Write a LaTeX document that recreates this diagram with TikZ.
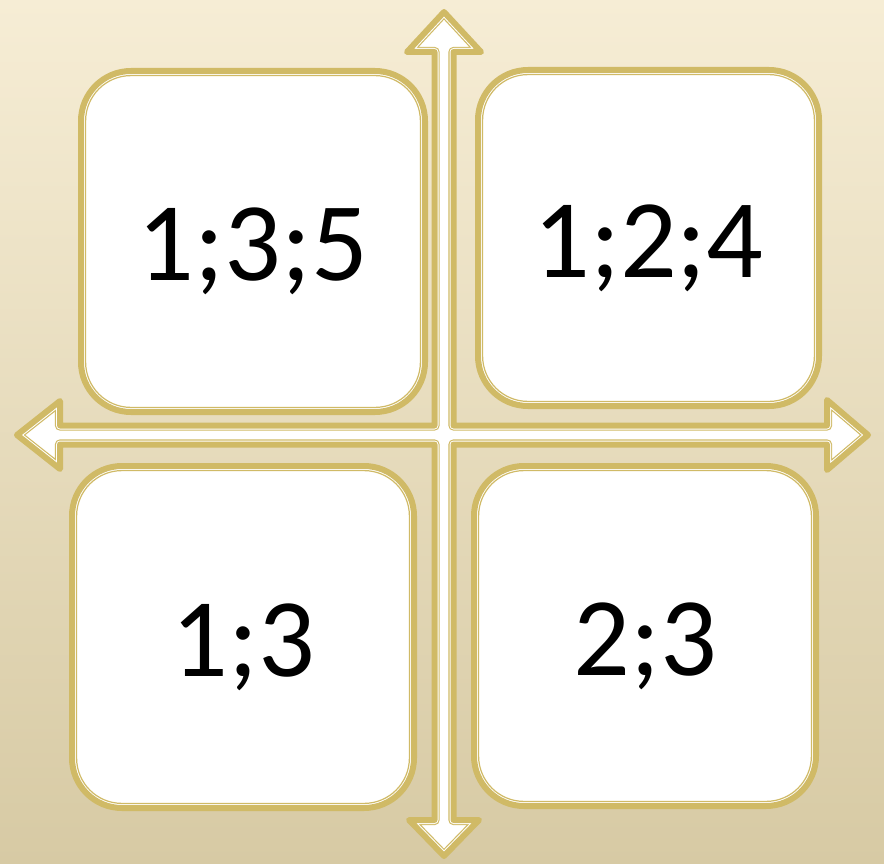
\documentclass[tikz,border=0pt]{standalone}
\usepackage{fontspec}
\setmainfont{Carlito}
\usetikzlibrary{calc, positioning}
\definecolor{gold}{RGB}{208,186,102}
\definecolor{bgtop}{RGB}{246,237,213}
\definecolor{bgbot}{RGB}{215,202,164}
\tikzset{
  card/.style={draw=gold, line width=6pt, fill=white, rounded corners=50pt,
    inner sep=0pt, outer sep=0pt, text height=80pt, text depth=2pt,
    font=\fontsize{112}{120}\selectfont},
  inset/.style={draw=gold, line width=1.2pt, rounded corners=45.4pt}
}
\newcommand{\quadarrow}{(444,12) -- (481,52) -- (453.5,52) -- (453.5,425.5)
  -- (827,425.5) -- (827,400) -- (868,435) -- (827,470) -- (827,444.5)
  -- (453.5,444.5) -- (453.5,820) -- (479,820) -- (444,856) -- (409,820)
  -- (434.5,820) -- (434.5,444.5) -- (60,444.5) -- (60,469) -- (17,435)
  -- (60,401) -- (60,425.5) -- (434.5,425.5) -- (434.5,52) -- (407,52) -- cycle}

\begin{document}
\begin{tikzpicture}[x=1pt, y=-1pt, line join=round]
      \useasboundingbox (0,0) rectangle (884,864);
      \shade[top color=bgtop, bottom color=bgbot] (0,0) rectangle (884,864);
      % four way arrow
      \fill[white] \quadarrow;
      \begin{scope}
        \clip \quadarrow;
        \draw[gold, line width=10.4pt] \quadarrow;
        \draw[white, line width=8pt] \quadarrow;
      \end{scope}
      \draw[gold, line width=6pt] \quadarrow;
      % cards
      \node[card, minimum width=344pt, minimum height=341pt] (tl) at (253,241.5) {1;3;5};
      \node[card, minimum width=341pt, minimum height=336pt] (tr) at (648.5,238) {1;2;4};
      \node[card, minimum width=342pt, minimum height=342pt] (bl) at (243,637) {1;3};
      \node[card, minimum width=342pt, minimum height=340pt] (br) at (645,636) {2;3};
      \foreach \n in {tl, tr, bl, br}
        \draw[inset] ([xshift=4.6pt, yshift=4.6pt]\n.south west) rectangle ([xshift=-4.6pt, yshift=-4.6pt]\n.north east);
    \end{tikzpicture}
\end{document}
